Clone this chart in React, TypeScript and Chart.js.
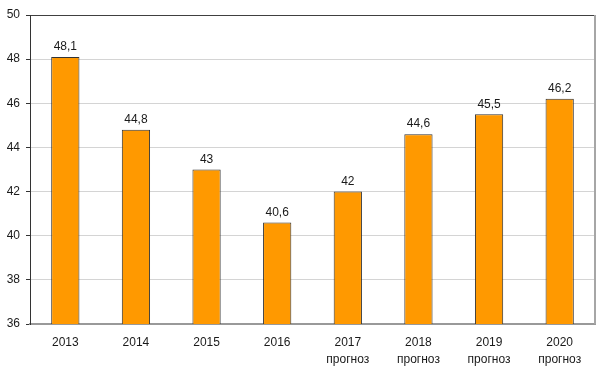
import React, { useEffect, useRef } from "react";
import { Chart, registerables } from "chart.js";

Chart.register(...registerables);

const categories: (string | string[])[] = [
  "2013",
  "2014",
  "2015",
  "2016",
  ["2017", "прогноз"],
  ["2018", "прогноз"],
  ["2019", "прогноз"],
  ["2020", "прогноз"],
];
const values = [48.1, 44.8, 43, 40.6, 42, 44.6, 45.5, 46.2];
const valueLabels = ["48,1", "44,8", "43", "40,6", "42", "44,6", "45,5", "46,2"];
const yMin = 36;
const yMax = 50;
const yStep = 2;

const FONT = "'Liberation Sans', Arial, sans-serif";

const frame = {
  id: "frame",
  afterDatasetsDraw(chart: any) {
    const { ctx, chartArea } = chart;
    ctx.save();
    ctx.strokeStyle = "#a6a6a6";
    ctx.lineWidth = 2;
    ctx.beginPath();
    ctx.moveTo(chartArea.right, chartArea.top);
    ctx.lineTo(chartArea.right, chartArea.bottom);
    ctx.stroke();
    const meta = chart.getDatasetMeta(0);
    ctx.fillStyle = "#1a1a1a";
    ctx.font = `12px ${FONT}`;
    ctx.textAlign = "center";
    ctx.textBaseline = "bottom";
    meta.data.forEach((bar: any, i: number) => {
      ctx.fillText(valueLabels[i], bar.x, bar.y - 4);
    });
    ctx.restore();
  },
};

export default function App() {
  const ref = useRef<HTMLCanvasElement>(null);
  useEffect(() => {
    document.body.style.margin = "0";
    const chart = new Chart(ref.current!, {
      type: "bar",
      data: {
        labels: categories,
        datasets: [
          {
            data: values,
            backgroundColor: "#ff9900",
            borderColor: "#333333",
            borderWidth: 1,
            categoryPercentage: 1,
            barPercentage: 0.4,
          },
        ],
      },
      options: {
        responsive: false,
        animation: false,
        layout: { padding: { top: 15, right: 5, left: 0, bottom: 0 } },
        plugins: { legend: { display: false }, tooltip: { enabled: false } },
        scales: {
          x: {
            grid: { display: false, drawTicks: false },
            border: { color: "#999999", width: 2 },
            ticks: {
              color: "#1a1a1a",
              font: { family: FONT, size: 12, lineHeight: 1.35 },
              padding: 11,
              maxRotation: 0,
            },
            afterFit(scale: any) {
              scale.height = 51;
            },
          },
          y: {
            min: yMin,
            max: yMax,
            grid: {
              color: (c: any) => (c.tick && c.tick.value === yMax ? "#404040" : "#d4d4d4"),
              tickColor: "#333333",
              tickLength: 4,
              lineWidth: 1,
            },
            border: { color: "#333333", width: 1 },
            ticks: {
              stepSize: yStep,
              color: "#1a1a1a",
              font: { family: FONT, size: 12 },
              padding: 6,
            },
            afterFit(scale: any) {
              scale.width = 30;
            },
          },
        },
      },
      plugins: [frame],
    });
    return () => chart.destroy();
  }, []);
  return (
    <div style={{ width: 600, height: 375 }}>
      <canvas ref={ref} width={600} height={375} />
    </div>
  );
}
